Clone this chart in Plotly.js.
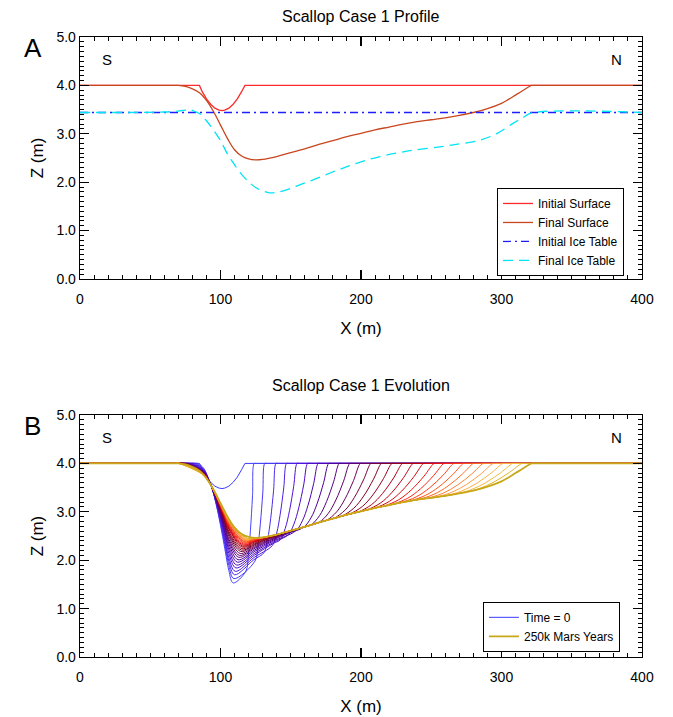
<!DOCTYPE html>
<html><head><meta charset="utf-8">
<script src="https://cdn.plot.ly/plotly-3.0.1.min.js"></script>
<style>html,body{margin:0;padding:0;background:#fff}#chart{width:673px;height:717px}</style>
</head><body><div id="chart"></div>
<script>
// ---------- Panel A data ----------
const initX = [0, 85, 87, 90, 93, 96, 99, 101, 103, 106, 109, 112, 115, 117.4, 400];
const initZ = [4.0, 4.0, 3.87, 3.72, 3.61, 3.53, 3.49, 3.48, 3.49, 3.53, 3.61, 3.72, 3.87, 4.0, 4.0];

const finX = [0, 67, 70, 75, 80, 85, 90, 95, 100, 105, 110, 115, 120, 125, 130, 140, 150, 160, 170, 180, 190, 200, 210, 220, 230, 240, 250, 260, 270, 280, 290, 300, 305, 310, 315, 321.5, 323, 400];
const finZ = [4.0, 4.0, 4.0, 3.98, 3.93, 3.85, 3.69, 3.46, 3.18, 2.90, 2.67, 2.54, 2.48, 2.46, 2.47, 2.53, 2.61, 2.69, 2.78, 2.86, 2.94, 3.01, 3.08, 3.14, 3.20, 3.25, 3.29, 3.33, 3.38, 3.44, 3.52, 3.63, 3.71, 3.80, 3.89, 4.0, 4.0, 4.0];

const iceInitX = [0, 400];
const iceInitZ = [3.44, 3.44];

const iceFinX = [0, 60, 70, 75, 78, 82, 86, 90, 95, 100, 105, 110, 115, 120, 125, 130, 135, 140, 147, 155, 166, 178, 190, 200, 213.5, 225, 237, 256, 270, 285, 297, 308.5, 315, 321.5, 400];
const iceFinZ = [3.44, 3.45, 3.47, 3.49, 3.50, 3.46, 3.40, 3.27, 3.08, 2.86, 2.58, 2.36, 2.16, 2.01, 1.89, 1.82, 1.78, 1.79, 1.84, 1.93, 2.05, 2.19, 2.32, 2.42, 2.53, 2.60, 2.66, 2.73, 2.79, 2.87, 3.01, 3.22, 3.33, 3.43, 3.44];

const legendA = ['Initial Surface', 'Final Surface', 'Initial Ice Table', 'Final Ice Table'];
const legendB = ['Time = 0', '250k Mars Years'];
const xTicks = [0, 100, 200, 300, 400];
const zTicks = [0, 1, 2, 3, 4, 5];

// ---------- Panel B data: intermediate profiles (k = 1..27); 'E' = follows the final surface ----------
const evoPts = [
[[0,4],[81,4],[84,4],[88,3.90],[91,3.72],[94,3.48],[97,3.14],[100,2.72],[103,2.25],[106,1.78],[109,1.53],[118,1.77],[119.8,2.10],[121.3,2.62],[122.8,3.33],[124,4],[125.5,4],[400,4]],
[[0,4],[79.6,4],[82.6,4],[88,3.886],[91,3.713],[94,3.483],[97,3.161],[100,2.766],[103,2.326],[106,1.887],[109.5,1.62],[124.5,1.98],[126.6,2.28],[128.35,2.75],[130.1,3.39],[131.5,4],[133,4],[400,4]],
[[0,4],[78.5,4],[81.5,4],[88,3.875],[91,3.707],[94,3.485],[97,3.178],[100,2.803],[103,2.387],[106,1.973],[110,1.70],[123.75,2.01],[131,2.158],[133.55,2.434],[135.7,2.858],[137.8,3.447],[139.5,4],[141,4],[400,4]],
[[0,4],[77.5,4],[80.5,4],[88,3.865],[91,3.703],[94,3.488],[97,3.193],[100,2.835],[103,2.44],[106,2.048],[110.5,1.77],[124,2.058],[137,2.308],[140,2.562],[142.5,2.951],[145,3.492],[147,4],[148.5,4],[400,4]],
[[0,4],[76.4,4],[79.4,4],[88,3.854],[91,3.697],[94,3.49],[97,3.209],[100,2.872],[103,2.501],[106,2.133],[111,1.84],[124.25,2.106],[137.5,2.345],[142.5,2.422],[146.1,2.659],[149.1,3.022],[152.1,3.527],[154.5,4],[156,4],[400,4]],
[[0,4],[75.4,4],[78.4,4],[88,3.844],[91,3.692],[94,3.492],[97,3.224],[100,2.904],[103,2.554],[106,2.208],[111.5,1.90],[124.5,2.146],[137.5,2.368],[148,2.521],[152.2,2.743],[155.7,3.083],[159.2,3.556],[162,4],[163.5,4],[400,4]],
[[0,4],[74.6,4],[77.6,4],[88,3.836],[91,3.688],[94,3.494],[97,3.237],[100,2.932],[103,2.60],[106,2.272],[112,1.96],[124.5,2.184],[137,2.386],[153.5,2.606],[158.3,2.815],[162.3,3.136],[166.3,3.582],[169.5,4],[171,4],[400,4]],
[[0,4],[73.7,4],[76.7,4],[88,3.827],[91,3.684],[94,3.496],[97,3.249],[100,2.959],[103,2.645],[106,2.336],[112.5,2.01],[124.5,2.215],[136.5,2.40],[148.5,2.558],[159,2.677],[164.4,2.875],[168.9,3.18],[173.4,3.603],[177,4],[178.5,4],[400,4]],
[[0,4],[73,4],[76,4],[88,3.82],[91,3.68],[94,3.497],[97,3.26],[100,2.982],[103,2.683],[106,2.39],[113,2.06],[124.5,2.247],[136,2.415],[147.5,2.558],[159,2.682],'E',[164.5,2.73],[170.5,2.921],[175.5,3.213],[180.5,3.62],[184.5,4],[186,4],[400,4]],
[[0,4],[72.5,4],[75.5,4],[88,3.815],[91,3.677],[94,3.498],[97,3.268],[100,3.001],[103,2.714],[106,2.433],[113.5,2.10],[124.5,2.271],[135.5,2.425],[146.5,2.556],[157.5,2.67],'E',[170,2.78],[176.6,2.963],[182.1,3.244],[187.6,3.634],[192,4],[193.5,4],[400,4]],
[[0,4],[71.8,4],[74.8,4],[88,3.808],[91,3.674],[94,3.50],[97,3.279],[100,3.024],[103,2.752],[106,2.486],[114,2.14],[124.5,2.295],[135,2.435],[145.5,2.554],[156,2.658],'E',[175.5,2.824],[182.7,3.0],[188.7,3.271],[194.7,3.647],[199.5,4],[201,4],[400,4]],
[[0,4],[71.2,4],[74.2,4],[88,3.802],[91,3.671],[94,3.501],[97,3.287],[100,3.042],[103,2.782],[106,2.529],[114.5,2.18],[124.5,2.32],[134.5,2.446],[144.5,2.553],[154.5,2.646],'E',[181,2.868],[188.8,3.038],[195.3,3.298],[201.8,3.66],[207,4],[208.5,4],[400,4]],
[[0,4],[70.8,4],[73.8,4],[88,3.798],[91,3.669],[94,3.502],[97,3.293],[100,3.056],[103,2.805],[106,2.561],[115,2.21],[124.5,2.337],[134,2.452],[143.5,2.549],[153,2.634],'E',[186.5,2.912],[194.9,3.075],[201.9,3.325],[208.9,3.674],[214.5,4],[216,4],[400,4]],
[[0,4],[70.4,4],[73.4,4],[88,3.794],[91,3.667],[94,3.503],[97,3.30],[100,3.07],[103,2.828],[106,2.593],[115.3,2.24],[124.3,2.354],[133.3,2.457],[142.3,2.544],[151.3,2.62],'E',[192,2.954],[201,3.111],[208.5,3.351],[216,3.686],[222,4],[223.5,4],[400,4]],
[[0,4],[69.8,4],[72.8,4],[88,3.788],[91,3.664],[94,3.504],[97,3.308],[100,3.088],[103,2.858],[106,2.636],[115.6,2.27],[124.1,2.371],[132.6,2.462],[141.1,2.535],[149.6,2.607],'E',[198,2.996],[207.45,3.147],[215.3,3.378],[223.2,3.699],[229.5,4],[231,4],[400,4]],
[[0,4],[69.5,4],[72.5,4],[88,3.785],[91,3.663],[94,3.505],[97,3.312],[100,3.097],[103,2.873],[106,2.657],[115.9,2.29],[123.9,2.381],[131.9,2.463],[139.9,2.525],[147.9,2.593],'E',[204,3.038],[213.9,3.182],[222.15,3.404],[230.4,3.711],[237,4],[238.5,4],[400,4]],
[[0,4],[69.2,4],[72.2,4],[88,3.782],[91,3.661],[94,3.505],[97,3.316],[100,3.106],[103,2.888],[106,2.679],[116.2,2.31],[123.7,2.391],[131.2,2.464],[138.7,2.518],[146.2,2.58],'E',[210,3.08],[220.35,3.218],[229,3.43],[237.6,3.724],[244.5,4],[246,4],[400,4]],
[[0,4],[69,4],[72,4],[88,3.78],[91,3.66],[94,3.506],[97,3.321],[100,3.116],[103,2.904],[106,2.70],[116.5,2.33],[123.5,2.401],[130.5,2.465],[137.5,2.51],[144.5,2.566],'E',[216,3.116],[226.8,3.249],[235.8,3.452],[244.8,3.735],[252,4],[253.5,4],[400,4]],
[[0,4],[68.7,4],[71.7,4],[88,3.777],[91,3.658],[94,3.506],[97,3.325],[100,3.125],[103,2.919],[106,2.722],[116.8,2.35],[123.3,2.411],[129.8,2.46],[136.3,2.503],[142.8,2.552],'E',[222,3.152],[233.1,3.279],[242.35,3.474],[251.6,3.746],[259,4],[260.5,4],[400,4]],
[[0,4],[68.4,4],[71.4,4],[88,3.774],[91,3.657],[94,3.507],[97,3.329],[100,3.134],[103,2.934],[106,2.743],[117.1,2.37],[123.1,2.421],[129.1,2.462],[135.1,2.496],[141.1,2.539],'E',[228,3.188],[239.4,3.31],[248.9,3.497],[258.4,3.756],[266,4],[267.5,4],[400,4]],
[[0,4],[68.3,4],[71.3,4],[88,3.773],[91,3.656],[94,3.507],[97,3.331],[100,3.139],[103,2.942],[106,2.754],[117.4,2.38],[122.9,2.424],[128.4,2.463],[133.9,2.488],[139.4,2.526],'E',[234,3.22],[245.7,3.337],[255.45,3.516],[265.2,3.766],[273,4],[274.5,4],[400,4]],
[[0,4],[67.8,4],[70.8,4],[88,3.768],[91,3.654],[94,3.508],[97,3.337],[100,3.152],[103,2.964],[106,2.786],[117.7,2.40],[122.7,2.435],[127.7,2.46],[132.7,2.48],[137.7,2.516],'E',[240,3.25],[252,3.363],[262,3.535],[272,3.775],[280,4],[281.5,4],[400,4]],
[[0,4],[67.7,4],[70.7,4],[88,3.767],[91,3.653],[94,3.509],[97,3.34],[100,3.157],[103,2.972],[106,2.797],[118,2.41],[122.5,2.439],[127,2.458],[131.5,2.474],[136,2.506],'E',[246,3.274],[258.3,3.383],[268.55,3.55],[278.8,3.782],[287,4],[288.5,4],[400,4]],
[[0,4],[67.6,4],[70.6,4],[88,3.766],[91,3.653],[94,3.509],[97,3.342],[100,3.162],[103,2.98],[106,2.807],[118.3,2.42],[122.3,2.443],[126.3,2.456],[130.3,2.466],[134.3,2.496],'E',[252,3.298],[264.6,3.403],[275.1,3.565],[285.6,3.789],[294,4],[295.5,4],[400,4]],
[[0,4],[67.4,4],[70.4,4],[88,3.764],[91,3.652],[94,3.509],[97,3.344],[100,3.166],[103,2.987],[106,2.818],[118.6,2.43],[122.1,2.447],[125.6,2.455],[129.1,2.462],[132.6,2.486],'E',[258.5,3.324],[271.25,3.425],[281.9,3.581],[292.5,3.797],[301,4],[302.5,4],[400,4]],
[[0,4],[67.3,4],[70.3,4],[88,3.763],[91,3.651],[94,3.509],[97,3.346],[100,3.171],[103,2.995],[106,2.829],[118.9,2.44],[121.9,2.449],[124.9,2.455],[127.9,2.46],[130.9,2.475],'E',[265,3.355],[277.9,3.452],[288.65,3.60],[299.4,3.807],[308,4],[309.5,4],[400,4]],
[[0,4],[67.1,4],[70.1,4],[88,3.761],[91,3.651],[94,3.51],[97,3.348],[100,3.175],[103,3.002],[106,2.839],[119.2,2.45],[124.2,2.457],[129.2,2.468],'E',[270.5,3.383],[283.7,3.476],[294.7,3.617],[305.7,3.815],[314.5,4],[316,4],[400,4]]
];

// ---------- styling helpers ----------
const FONT = 'Liberation Sans, Arial, Helvetica, sans-serif';
const colorStops = [[0,'#3c3cff'],[1,'#4646ff'],[5,'#5010d8'],[8,'#4c0098'],[11,'#6a0058'],[13,'#800020'],[16,'#c00010'],[18,'#f01010'],[20,'#ff3c10'],[22,'#ff6a20'],[24,'#ff9a40'],[25,'#ffb040'],[26,'#f8b838'],[27,'#e0b428'],[28,'#c8a818']];
function hex2rgb(h){return [1,3,5].map(i=>parseInt(h.substr(i,2),16));}
function colorAt(k){
  for (let i=0;i<colorStops.length-1;i++){
    const [k0,c0]=colorStops[i],[k1,c1]=colorStops[i+1];
    if(k>=k0&&k<=k1){const t=(k-k0)/(k1-k0);const a=hex2rgb(c0),b=hex2rgb(c1);
      return 'rgb('+a.map((v,j)=>Math.round(v+(b[j]-v)*t)).join(',')+')';}
  }
  return colorStops[colorStops.length-1][1];
}
function buildCurve(pts){
  const xs=[],zs=[];
  for(let i=0;i<pts.length;i++){
    const p=pts[i];
    if(p==='E'){const lx=pts[i-1][0],rx=pts[i+1][0];
      for(let j=0;j<finX.length;j++){if(finX[j]>lx+0.3&&finX[j]<rx-0.3){xs.push(finX[j]);zs.push(finZ[j]);}}}
    else{xs.push(p[0]);zs.push(p[1]);}
  }
  return [xs,zs];
}

const traces = [];
// Panel A
traces.push({x:initX,y:initZ,xaxis:'x',yaxis:'y',mode:'lines',name:legendA[0],legend:'legend',line:{color:'#ff2a2a',width:1.3}});
traces.push({x:finX,y:finZ,xaxis:'x',yaxis:'y',mode:'lines',name:legendA[1],legend:'legend',line:{color:'#c8461e',width:1.3,shape:'spline'}});
traces.push({x:iceInitX,y:iceInitZ,xaxis:'x',yaxis:'y',mode:'lines',name:legendA[2],legend:'legend',line:{color:'#1e1eff',width:1.3,dash:'8px,4px,2px,4px'}});
traces.push({x:iceFinX,y:iceFinZ,xaxis:'x',yaxis:'y',mode:'lines',name:legendA[3],legend:'legend',line:{color:'#00e4f4',width:1.3,dash:'10px,6px',shape:'spline'}});
// Panel B
traces.push({x:initX,y:initZ,xaxis:'x2',yaxis:'y2',mode:'lines',name:legendB[0],legend:'legend2',line:{color:colorAt(0),width:1}});
evoPts.forEach((pts,i)=>{
  const [xs,zs]=buildCurve(pts);
  traces.push({x:xs,y:zs,xaxis:'x2',yaxis:'y2',mode:'lines',showlegend:false,line:{color:colorAt(i+1),width:1,shape:'spline'},hoverinfo:'skip'});
});
traces.push({x:finX,y:finZ,xaxis:'x2',yaxis:'y2',mode:'lines',name:legendB[1],legend:'legend2',line:{color:colorAt(28),width:1.8,shape:'spline'}});

function xAxis(anchor){
  return {anchor:anchor,domain:[0,1],range:[0,400],tickvals:xTicks,ticktext:xTicks.map(String),
    showline:true,linecolor:'#000',linewidth:1.3,mirror:'allticks',ticks:'inside',ticklen:9,tickwidth:1.2,tickcolor:'#000',
    minor:{dtick:10,tick0:0,ticks:'inside',ticklen:4,tickwidth:1,tickcolor:'#000'},
    ticklabelstandoff:7,
    showgrid:false,zeroline:false,tickfont:{family:FONT,size:14,color:'#000'},
    title:{text:'X (m)',font:{family:FONT,size:17,color:'#000'},standoff:16}};
}
function yAxis(anchor,domain){
  return {anchor:anchor,domain:domain,range:[0,5],tickvals:zTicks,ticktext:zTicks.map(v=>v.toFixed(1)),
    showline:true,linecolor:'#000',linewidth:1.3,mirror:'allticks',ticks:'inside',ticklen:9,tickwidth:1.2,tickcolor:'#000',
    minor:{dtick:0.1,tick0:0,ticks:'inside',ticklen:4,tickwidth:1,tickcolor:'#000'},
    showgrid:false,zeroline:false,tickfont:{family:FONT,size:14,color:'#000'},
    title:{text:'Z (m)',font:{family:FONT,size:17,color:'#000'},standoff:8}};
}
const txt=(s,x,y,xref,yref,size)=>({text:s,x:x,y:y,xref:xref,yref:yref,xanchor:'center',yanchor:'middle',showarrow:false,font:{family:FONT,size:size,color:'#000'}});

const layout = {
  width:673,height:717,paper_bgcolor:'#fff',plot_bgcolor:'#fff',
  margin:{l:80,r:31,t:37,b:60},
  showlegend:true,
  xaxis:xAxis('y'), yaxis:yAxis('x',[0.6097,1]),
  xaxis2:xAxis('y2'), yaxis2:yAxis('x2',[0,0.3903]),
  legend:{x:0.742,y:0.7565,xanchor:'left',yanchor:'top',bordercolor:'#000',borderwidth:1,bgcolor:'#fff',
    font:{family:FONT,size:12,color:'#000'},tracegroupgap:0,itemwidth:30},
  legend2:{x:0.717,y:0.089,xanchor:'left',yanchor:'top',bordercolor:'#000',borderwidth:1,bgcolor:'#fff',
    font:{family:FONT,size:12,color:'#000'},tracegroupgap:0,itemwidth:30},
  annotations:[
    txt('Scallop Case 1 Profile',0.5,1.0323,'paper','paper',16),
    txt('Scallop Case 1 Evolution',0.5,0.4387,'paper','paper',16),
    txt('A',-0.084,0.983,'paper','paper',26),
    txt('B',-0.084,0.373,'paper','paper',26),
    txt('S',19,4.545,'x','y',15),
    txt('N',381.5,4.545,'x','y',15),
    txt('S',19,4.545,'x2','y2',15),
    txt('N',381.5,4.545,'x2','y2',15)
  ]
};
Plotly.newPlot('chart',traces,layout,{displayModeBar:false,staticPlot:true});
</script></body></html>
